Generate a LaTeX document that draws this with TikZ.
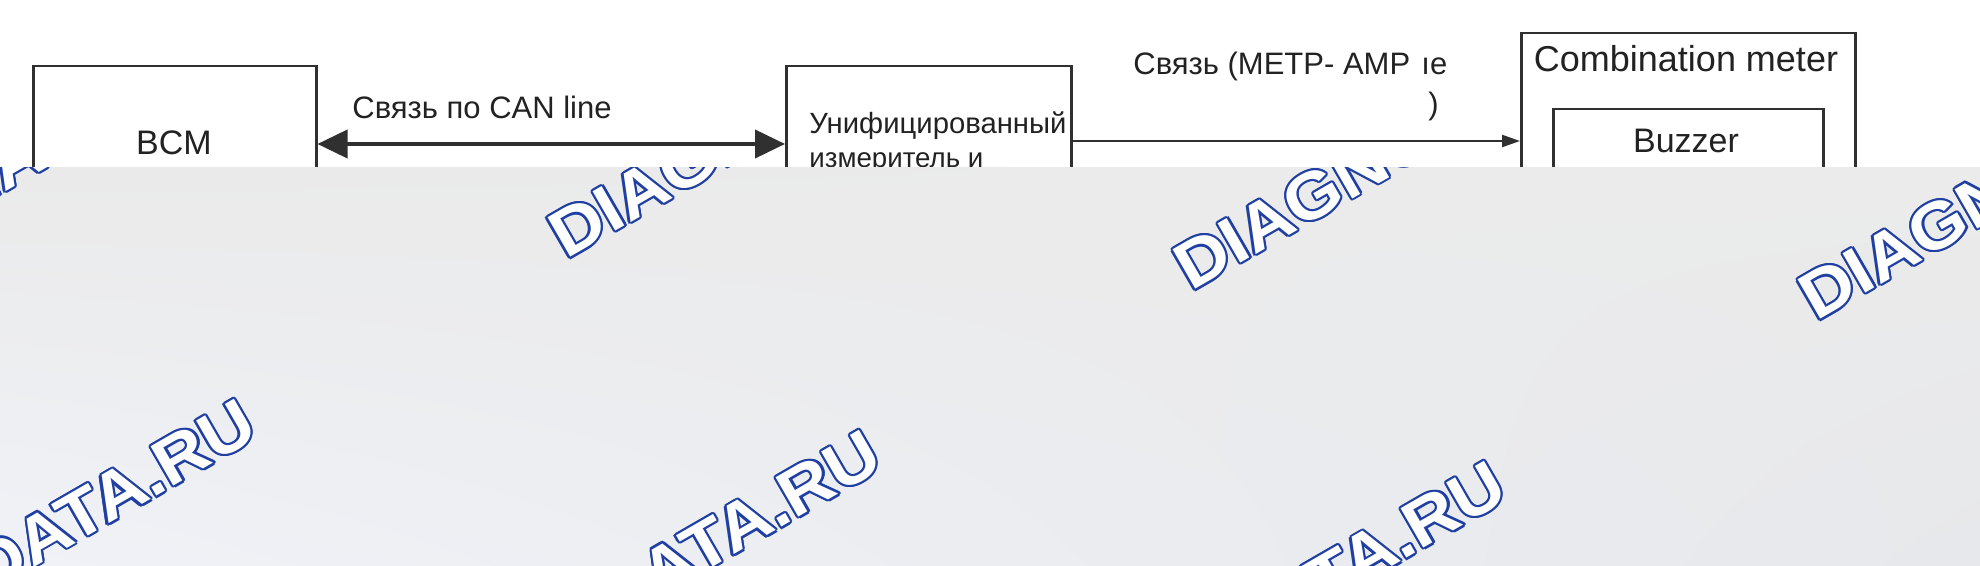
\documentclass[tikz,border=0pt]{standalone}
\usepackage{fontspec}
\setmainfont{Liberation Sans}
\usetikzlibrary{arrows.meta,shadings}
\definecolor{lc}{HTML}{303030}
\definecolor{tc}{HTML}{222222}
\definecolor{wmblue}{HTML}{1F3FA3}
\definecolor{bUL}{HTML}{EAEAEA}
\definecolor{bUR}{HTML}{EBEBEB}
\definecolor{bLL}{HTML}{F0F2F7}
\definecolor{bLR}{HTML}{E7E8EB}
\newcommand\wmtext{DIAGNOSTDATA.RU}
\newcommand\wmcp[2]{\rlap{\raisebox{#2}{\kern#1\textcolor{wmblue}{\wmtext}}}}
\newcommand\wmout{\scalebox{1.1}[1]{\wmcp{1.1pt}{0pt}\wmcp{-1.1pt}{0pt}\wmcp{0pt}{1.1pt}\wmcp{0pt}{-1.1pt}\wmcp{.95pt}{.55pt}\wmcp{.55pt}{.95pt}\wmcp{-.55pt}{.95pt}\wmcp{-.95pt}{.55pt}\wmcp{-.95pt}{-.55pt}\wmcp{-.55pt}{-.95pt}\wmcp{.55pt}{-.95pt}\wmcp{.95pt}{-.55pt}\textcolor{white}{\wmtext}}}
\begin{document}
\begin{tikzpicture}[x=0.5pt,y=-0.5pt,
  box/.style={draw=lc,line width=1.25pt,inner sep=0,outer sep=0.625pt,anchor=north west},
  lbl/.style={inner sep=0,text=tc},
  wm/.style={inner sep=0,anchor=base west,rotate=30,font=\fontsize{33}{38}\selectfont\bfseries}]
\useasboundingbox (0,0) rectangle (1980,566);
\fill[white] (0,0) rectangle (1980,566);
% boxes
\node[box,minimum width=141.5pt,minimum height=150pt] (bcm) at (32,65) {};
\node[box,minimum width=142.5pt,minimum height=150pt] (unif) at (785,65) {};
\node[box,minimum width=167pt,minimum height=170pt] (comb) at (1520,32) {};
\node[box,minimum width=135pt,minimum height=120pt] (buzz) at (1552,108) {};
% texts
\node[lbl,anchor=base,font=\fontsize{17}{20}\selectfont] (tbcm) at (174,155) {BCM};
\node[lbl,anchor=base west,font=\fontsize{15.5}{18}\selectfont] (tcan) at (352,119) {Связь по CAN line};
\node[lbl,anchor=base west] (tu1) at (809,134) {\resizebox{128.5pt}{!}{Унифицированный}};
\node[lbl,anchor=base west] (tu2) at (809,168) {\resizebox{87pt}{!}{измеритель и}};
\node[lbl,anchor=base west,font=\fontsize{15.5}{18}\selectfont] (tmetp) at (1133,75) {Связь (METP- AMP};
\node[lbl,anchor=base west,font=\fontsize{15.5}{18}\selectfont] (tne) at (1421,75) {ıe};
\node[lbl,anchor=base west,font=\fontsize{15.5}{18}\selectfont] (tpar) at (1428,115) {)};
\node[lbl,anchor=base,font=\fontsize{18}{21}\selectfont] (tcomb) at (1686,72) {Combination meter};
\node[lbl,anchor=base,font=\fontsize{17}{20}\selectfont] (tbuzz) at (1686,153) {Buzzer};
% connectors
\coordinate (ya) at (0,144);
\coordinate (yb) at (0,141);
\draw[lc,line width=2pt,{Triangle[length=15pt,width=14pt]}-{Triangle[length=15pt,width=14pt]}] (bcm.east |- ya) -- (unif.west |- ya);
\draw[lc,line width=1.2pt,-{Triangle[length=9pt,width=6pt]}] (unif.east |- yb) -- (comb.west |- yb);
% watermark band
\shade[upper left=bUL,upper right=bUR,lower left=bLL,lower right=bLR] (0,168) rectangle (1980,566);
\begin{scope}
\clip (0,168) rectangle (1980,566);
\node[wm] (w1) at (-59,229) {\wmout};
\node[wm] (w2) at (566,260) {\wmout};
\node[wm] (w3) at (1191,292) {\wmout};
\node[wm] (w4) at (1816,322) {\wmout};
\node[wm] (w5) at (-345,786) {\wmout};
\node[wm] (w6) at (280,817) {\wmout};
\node[wm] (w7) at (905,848) {\wmout};
\end{scope}
\end{tikzpicture}
\end{document}
